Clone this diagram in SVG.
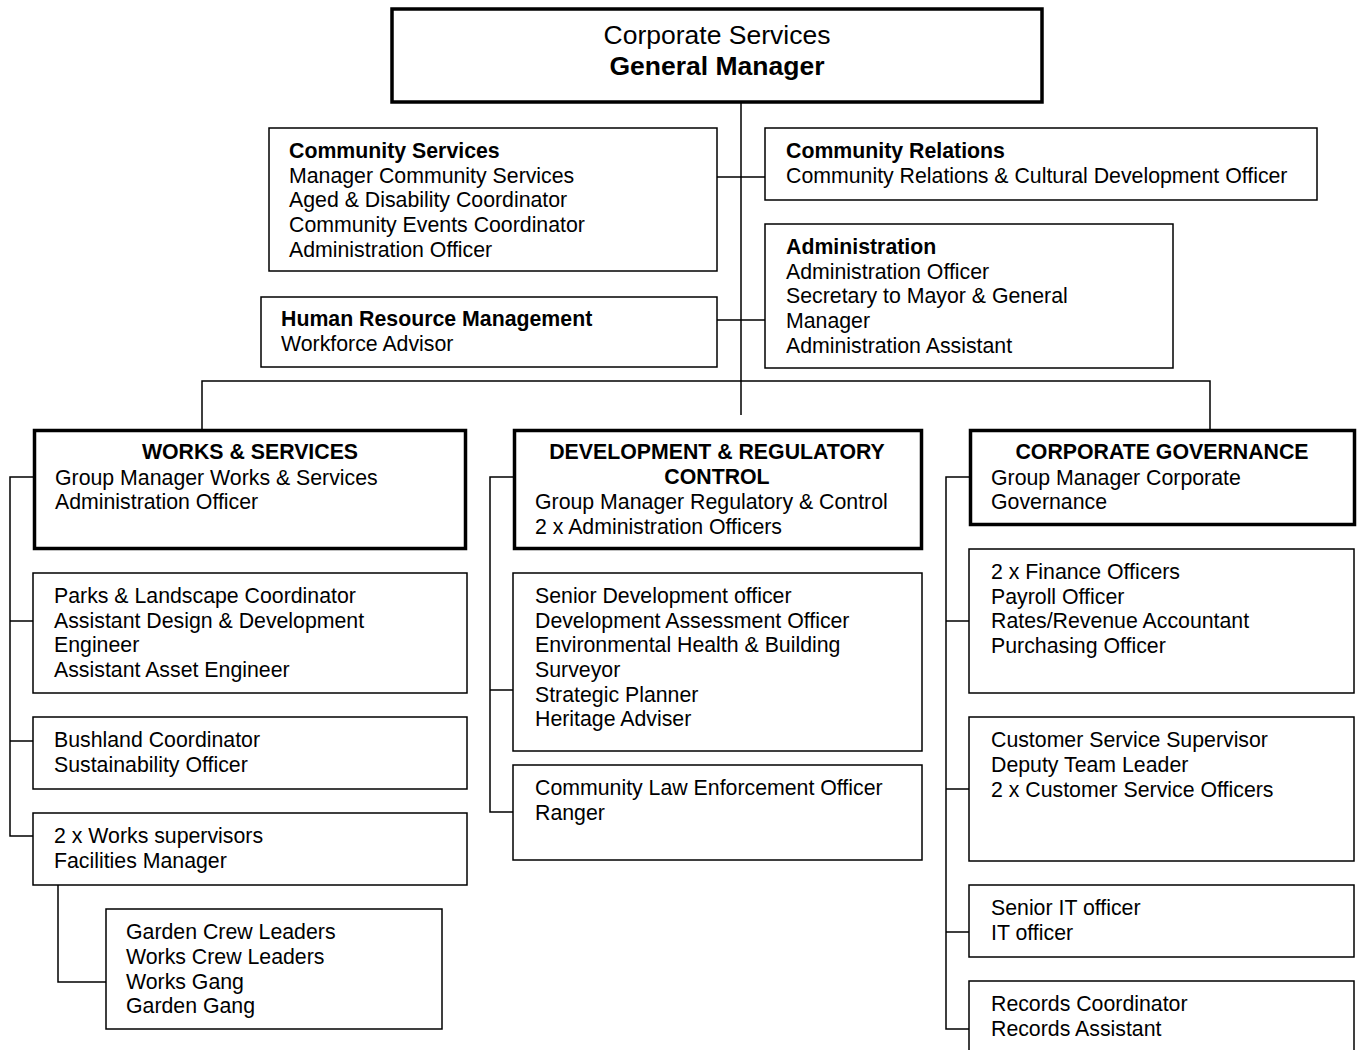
<svg xmlns="http://www.w3.org/2000/svg" width="1357" height="1050" viewBox="0 0 1357 1050">
<style>
text{font-family:"Liberation Sans",Arial,sans-serif;font-size:21.3px;fill:#000}
.b{font-weight:bold}
.c{text-anchor:middle}
.t{font-size:26.5px}
.box{fill:#fff;stroke:#000;stroke-width:1.5}
.tk{fill:#fff;stroke:#000;stroke-width:3.5}
.ln{fill:none;stroke:#000;stroke-width:1.5}
</style>
<rect width="1357" height="1050" fill="#fff"/>
<g id="connectors">
<path class="ln" d="M741 103V415M717 177H765M717 320H765M202 429V381H1210V429"/>
<path class="ln" d="M33 477H10V836H33M10 621H33M10 741H33"/>
<path class="ln" d="M58 885V982H106"/>
<path class="ln" d="M513 477H490V812H513M490 690H513"/>
<path class="ln" d="M969 477H946V1029H969M946 621H969M946 789H969M946 932H969"/>
</g>
<g id="gm"><rect class="tk" x="392" y="9" width="650" height="93"/>
<text class="c t" x="717" y="44">Corporate Services</text>
<text class="c b t" x="717" y="75">General Manager</text></g>
<g id="community-services"><rect class="box" x="269" y="128" width="448" height="143"/>
<text x="289" y="158" class="b">Community Services</text>
<text x="289" y="183">Manager Community Services</text>
<text x="289" y="207">Aged &amp; Disability Coordinator</text>
<text x="289" y="232">Community Events Coordinator</text>
<text x="289" y="257">Administration Officer</text></g>
<g id="hr"><rect class="box" x="261" y="297" width="456" height="70"/>
<text x="281" y="326" class="b">Human Resource Management</text>
<text x="281" y="351">Workforce Advisor</text></g>
<g id="community-relations"><rect class="box" x="765" y="128" width="552" height="72"/>
<text x="786" y="158" class="b">Community Relations</text>
<text x="786" y="183">Community Relations &amp; Cultural Development Officer</text></g>
<g id="administration"><rect class="box" x="765" y="224" width="408" height="144"/>
<text x="786" y="254" class="b">Administration</text>
<text x="786" y="279">Administration Officer</text>
<text x="786" y="303">Secretary to Mayor &amp; General</text>
<text x="786" y="328">Manager</text>
<text x="786" y="353">Administration Assistant</text></g>
<g id="works"><rect class="tk" x="34.5" y="430.5" width="431" height="118"/>
<text class="c b" x="250" y="459">WORKS &amp; SERVICES</text>
<text x="55" y="485">Group Manager Works &amp; Services</text>
<text x="55" y="509">Administration Officer</text></g>
<g id="parks"><rect class="box" x="33" y="573" width="434" height="120"/>
<text x="54" y="603">Parks &amp; Landscape Coordinator</text>
<text x="54" y="628">Assistant Design &amp; Development</text>
<text x="54" y="652">Engineer</text>
<text x="54" y="677">Assistant Asset Engineer</text></g>
<g id="bushland"><rect class="box" x="33" y="717" width="434" height="72"/>
<text x="54" y="747">Bushland Coordinator</text>
<text x="54" y="772">Sustainability Officer</text></g>
<g id="works-supervisors"><rect class="box" x="33" y="813" width="434" height="72"/>
<text x="54" y="843">2 x Works supervisors</text>
<text x="54" y="868">Facilities Manager</text></g>
<g id="garden"><rect class="box" x="106" y="909" width="336" height="120"/>
<text x="126" y="939">Garden Crew Leaders</text>
<text x="126" y="964">Works Crew Leaders</text>
<text x="126" y="989">Works Gang</text>
<text x="126" y="1013">Garden Gang</text></g>
<g id="development"><rect class="tk" x="514.5" y="430.5" width="407" height="118"/>
<text class="c b" x="717" y="459">DEVELOPMENT &amp; REGULATORY</text>
<text class="c b" x="717" y="484">CONTROL</text>
<text x="535" y="509">Group Manager Regulatory &amp; Control</text>
<text x="535" y="534">2 x Administration Officers</text></g>
<g id="senior-dev"><rect class="box" x="513" y="573" width="409" height="178"/>
<text x="535" y="603">Senior Development officer</text>
<text x="535" y="628">Development Assessment Officer</text>
<text x="535" y="652">Environmental Health &amp; Building</text>
<text x="535" y="677">Surveyor</text>
<text x="535" y="702">Strategic Planner</text>
<text x="535" y="726">Heritage Adviser</text></g>
<g id="law"><rect class="box" x="513" y="765" width="409" height="95"/>
<text x="535" y="795">Community Law Enforcement Officer</text>
<text x="535" y="820">Ranger</text></g>
<g id="governance"><rect class="tk" x="970.5" y="430.5" width="384" height="94"/>
<text class="c b" x="1162" y="459">CORPORATE GOVERNANCE</text>
<text x="991" y="485">Group Manager Corporate</text>
<text x="991" y="509">Governance</text></g>
<g id="finance"><rect class="box" x="969" y="549" width="385" height="144"/>
<text x="991" y="579">2 x Finance Officers</text>
<text x="991" y="604">Payroll Officer</text>
<text x="991" y="628">Rates/Revenue Accountant</text>
<text x="991" y="653">Purchasing Officer</text></g>
<g id="customer"><rect class="box" x="969" y="717" width="385" height="144"/>
<text x="991" y="747">Customer Service Supervisor</text>
<text x="991" y="772">Deputy Team Leader</text>
<text x="991" y="797">2 x Customer Service Officers</text></g>
<g id="it"><rect class="box" x="969" y="885" width="385" height="72"/>
<text x="991" y="915">Senior IT officer</text>
<text x="991" y="940">IT officer</text></g>
<g id="records"><rect class="box" x="969" y="981" width="385" height="90"/>
<text x="991" y="1011">Records Coordinator</text>
<text x="991" y="1036">Records Assistant</text></g>
</svg>
